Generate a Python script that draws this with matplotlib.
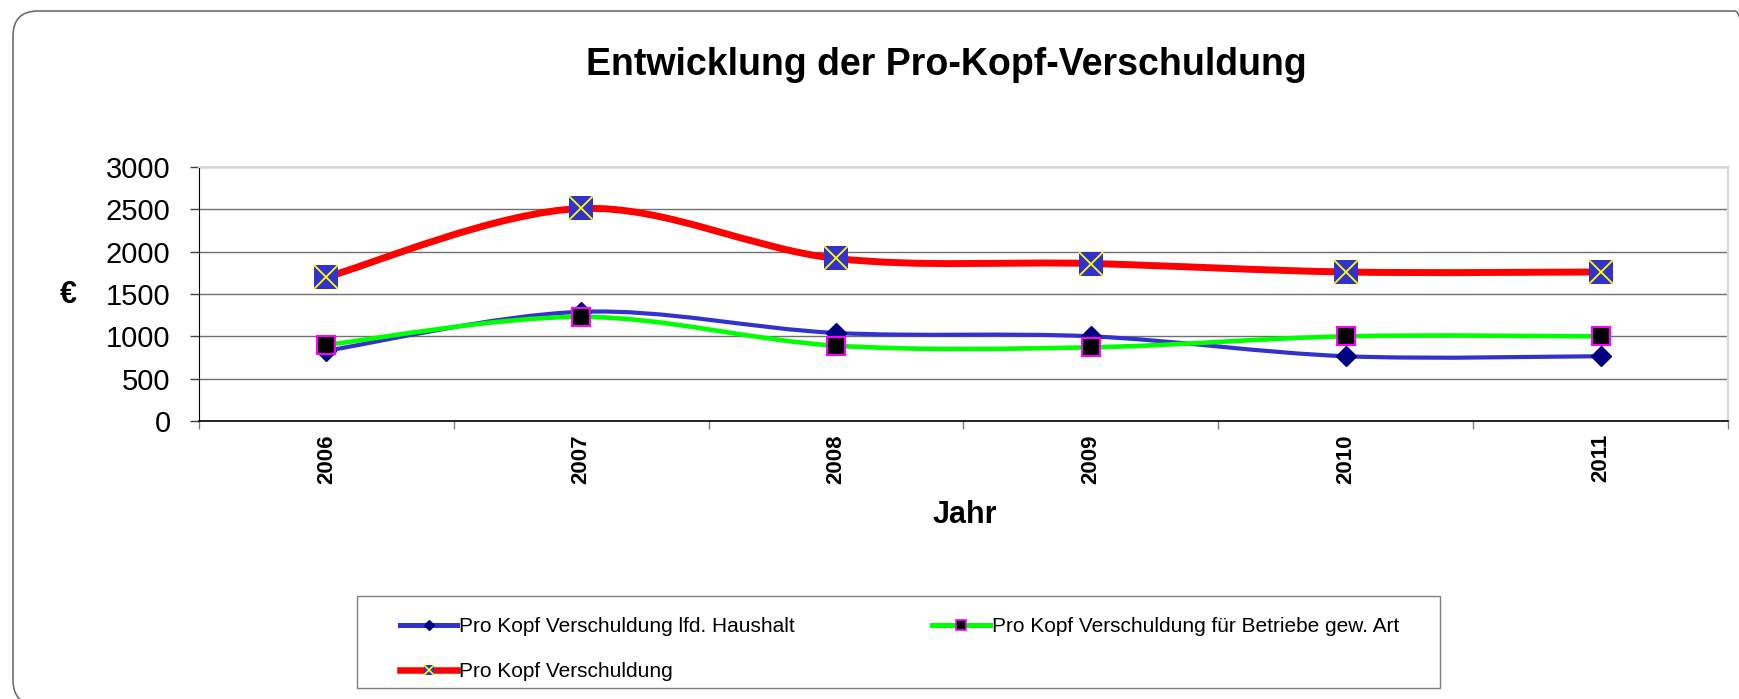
import numpy as np
import matplotlib
matplotlib.use('Agg')
import matplotlib.pyplot as plt
from matplotlib.path import Path
from matplotlib.patches import PathPatch, FancyBboxPatch, Rectangle
from matplotlib.lines import Line2D
from matplotlib.legend_handler import HandlerTuple
from matplotlib.transforms import IdentityTransform

plt.rcParams['font.family'] = ['Liberation Sans', 'DejaVu Sans']

years = ['2006', '2007', '2008', '2009', '2010', '2011']
haushalt = [830, 1290, 1040, 1000, 765, 765]
betriebe = [900, 1230, 890, 870, 1000, 1000]
gesamt = [1700, 2510, 1920, 1860, 1760, 1760]
labels = ['Pro Kopf Verschuldung lfd. Haushalt',
          'Pro Kopf Verschuldung für Betriebe gew. Art',
          'Pro Kopf Verschuldung']

W, H = 1740, 699


def smooth_path(x, y):
    # Catmull-Rom style bezier, like Excel's "smoothed line"
    pts = np.column_stack([x, y]).astype(float)
    n = len(pts)
    verts = [pts[0]]
    codes = [Path.MOVETO]
    for i in range(n - 1):
        p0 = pts[max(i - 1, 0)]
        p1 = pts[i]
        p2 = pts[i + 1]
        p3 = pts[min(i + 2, n - 1)]
        verts += [p1 + (p2 - p0) / 6, p2 - (p3 - p1) / 6, p2]
        codes += [Path.CURVE4] * 3
    return Path(verts, codes)


fig = plt.figure(figsize=(W / 100, H / 100), dpi=100)
ax = fig.add_axes([199 / W, 1 - 421 / H, 1529 / W, 254 / H])

x = np.arange(len(years))

# lines
for vals, col, lw in [(haushalt, '#3333CC', 3.0), (betriebe, '#00FF00', 3.3), (gesamt, '#FF0000', 5.0)]:
    ax.add_patch(PathPatch(smooth_path(x, vals), fill=False, edgecolor=col, lw=lw,
                           capstyle='butt', zorder=3))

# markers
ax.plot(x, haushalt, ls='none', marker='D', ms=10, mfc='#000080', mec='#000080', zorder=4)
ax.plot(x, betriebe, ls='none', marker='s', ms=13, mfc='black', mec='#FF00FF', mew=1.5, zorder=5)
ax.plot(x, gesamt, ls='none', marker='s', ms=17, mfc='#3333CC', mec='#3333CC', mew=0, zorder=6)
ax.plot(x, gesamt, ls='none', marker='x', ms=17, color='#FFFF00', mew=1.3, zorder=7)

ax.set_xlim(-0.5, len(years) - 0.5)
ax.set_ylim(0, 3000)
ax.set_yticks(range(0, 3001, 500))
ax.set_xticks(x)
ax.set_xticklabels(years, rotation=90, fontsize=16, fontweight='bold')
ax.set_xticks(np.arange(-0.5, len(years), 1), minor=True)
ax.tick_params(axis='x', which='major', length=0, pad=9.5)
ax.tick_params(axis='x', which='minor', length=5.5, color='#808080', width=1)
ax.tick_params(axis='y', length=6.5, pad=14, labelsize=21, color='#404040', width=1)

ax.yaxis.grid(True, color='#707070', lw=1.0)
ax.set_axisbelow(True)
ax.spines['left'].set_color('black')
ax.spines['left'].set_linewidth(0.8)
ax.spines['bottom'].set_color('black')
ax.spines['bottom'].set_linewidth(1.2)
for s in ['top', 'right']:
    ax.spines[s].set_color('#d9d9d9')
    ax.spines[s].set_linewidth(1.6)

fig.text(946 / W, 1 - 65 / H, 'Entwicklung der Pro-Kopf-Verschuldung',
         ha='center', va='center', fontsize=27, fontweight='bold')
fig.text(965 / W, 1 - 515 / H, 'Jahr', ha='center', va='center', fontsize=22, fontweight='bold')
fig.text(68 / W, 1 - 295 / H, '€', ha='center', va='center', fontsize=22, fontweight='bold')

# outer rounded frame and legend box (pixel coords)
fig.patches.append(FancyBboxPatch((13, -6), 1747, 694, boxstyle='round,pad=0,rounding_size=25',
                                  transform=IdentityTransform(), fill=False,
                                  edgecolor='#707070', lw=1.2))
fig.patches.append(Rectangle((357, H - 688), 1083, 92, transform=IdentityTransform(),
                             fill=False, edgecolor='#808080', lw=1.0))

h_blue = Line2D([], [], color='#3333CC', lw=3.6, marker='D', ms=5,
                mfc='#000080', mec='#000080')
h_green = Line2D([], [], color='#00FF00', lw=3.6, marker='s', ms=7,
                 mfc='black', mec='#FF00FF', mew=1.2)
h_red = (Line2D([], [], color='#FF0000', lw=4.7, marker='s', ms=7, mfc='#3333CC', mec='#3333CC', mew=0),
         Line2D([], [], ls='none', marker='x', ms=7, color='#FFFF00', mew=1.2))

fig.legend([h_blue, h_red, h_green], [labels[0], labels[2], labels[1]], ncol=2,
           loc='upper left', bbox_to_anchor=(400 / W, 1 - 617 / H),
           frameon=False, fontsize=15, handlelength=2.74, handletextpad=0.1,
           columnspacing=6.6, labelspacing=1.27, borderpad=0, borderaxespad=0,
           handler_map={tuple: HandlerTuple(ndivide=1)})

fig.savefig('out.png', dpi=100)
plt.close(fig)
